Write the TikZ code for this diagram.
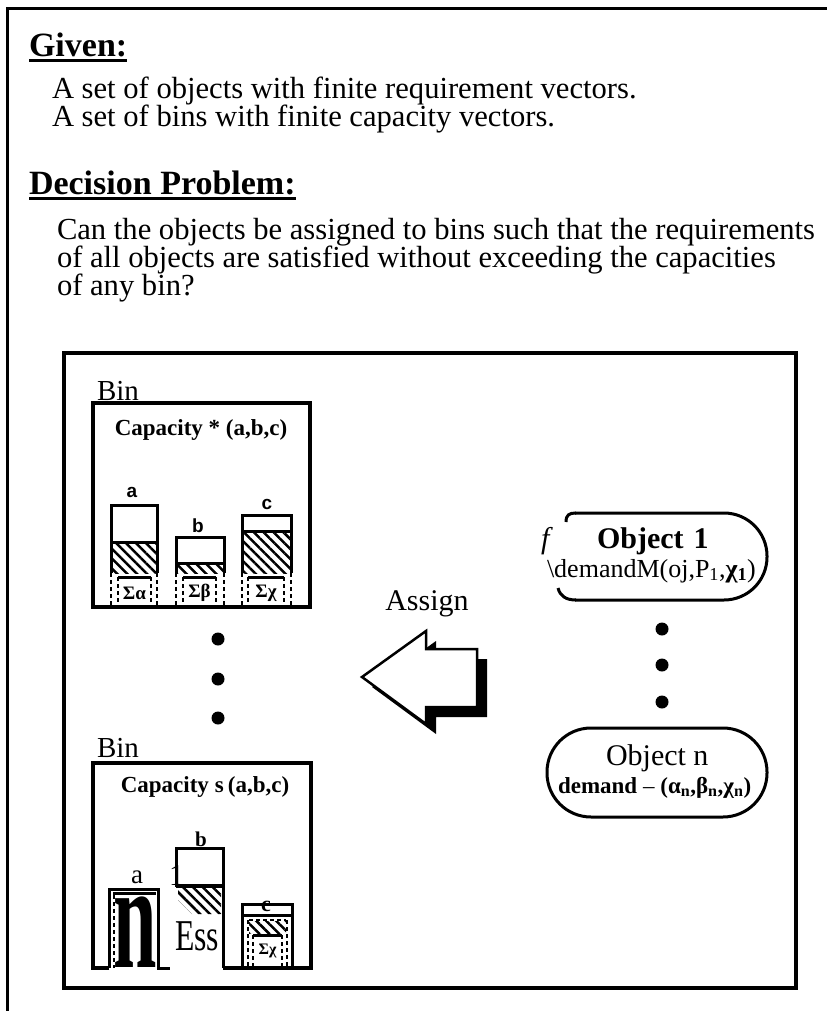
\documentclass[tikz,border=0pt]{standalone}
\usepackage{fontspec}
\setmainfont{Liberation Serif}
\newfontfamily\lsans{Liberation Sans}
\usetikzlibrary{patterns.meta}
\newcommand\fs[1]{\fontsize{#1}{#1}\selectfont}
% top-bin bar: x1 x2 top mid ix1 ix2 label
\newcommand\mybar[7]{%
  \draw[barline] (#1,573) -- (#1,#3) -- (#2,#3) -- (#2,573);
  \path[hatch] (#1,#4) rectangle (#2,573);
  \draw[barline] (#1,#4) -- (#2,#4);
  \draw[bardash] (#1,573) -- (#1,607) (#2,573) -- (#2,607);
  \draw[barline] (#5,577) -- (#6,577);
  \draw[bardash] (#5,577) -- (#5,607) (#6,577) -- (#6,607);
  \node[siglab] at ({(#5+#6)/2},593) {#7};
}
\begin{document}
\begin{tikzpicture}[x=1pt,y=-1pt,
  txt/.style={anchor=base west, inner sep=0pt, outer sep=0pt},
  body/.style={txt, font=\fs{30.6}},
  heading/.style={txt, font=\fs{34}\bfseries},
  uline/.style={line width=3pt},
  frame/.style={line width=3.5pt},
  binline/.style={line width=3.5pt},
  barline/.style={line width=3pt},
  bardash/.style={line width=2.5pt, dash pattern=on 4pt off 3pt},
  hatch/.style={pattern={Lines[angle=-45,distance=7pt,line width=2.5pt]}},
  objline/.style={line width=3pt},
  dot/.style={circle, fill, inner sep=0pt, minimum size=13pt},
  barlab/.style={anchor=base, inner sep=0pt, font=\lsans\fs{19}\bfseries},
  siglab/.style={anchor=center, inner sep=0pt, font=\fs{19}\bfseries},
]
\useasboundingbox (0,0) rectangle (827,1011);
\fill[white] (0,0) rectangle (827,1011);

% outer frame
\draw[line width=3pt] (7,1011) -- (7,9) -- (827,9);

% header texts
\node[heading] (given) at (29,57) {Given:};
\draw[uline] ([yshift=-4pt]given.base west) -- ([yshift=-4pt]given.base east);
\node[body] (g1) at (52,99) {A set of objects with finite requirement vectors.};
\node[body] (g2) at (52,127) {A set of bins with finite capacity vectors.};
\node[heading] (dp) at (29,194) {Decision Problem:};
\draw[uline] ([yshift=-4pt]dp.base west) -- ([yshift=-4pt]dp.base east);
\node[body] (d1) at (57,239) {Can the objects be assigned to bins such that the requirements};
\node[body] (d2) at (57,267) {of all objects are satisfied without exceeding the capacities};
\node[body] (d3) at (57,295) {of any bin?};

% inner frame
\draw[frame] (64,353) rectangle (796,988);

% ---------- top bin ----------
\node[txt, font=\fs{29}] (bin1) at (97,400) {Bin};
\draw[binline] (93,403) rectangle (310,607);
\node[anchor=base, inner sep=0pt, font=\fs{23}\bfseries] (cap1) at (201,435) {Capacity * (a,b,c)};
\mybar{111}{157}{505}{542}{118}{151}{Σα}
\mybar{176}{224}{537}{563}{183}{216}{Σβ}
\mybar{242}{291}{515}{531}{248}{284}{Σχ}
\node[barlab] (la1) at (132,497) {a};
\node[barlab] (lb1) at (198,532) {b};
\node[barlab] (lc1) at (267,509) {c};

% dots between bins
\node[dot] (bd1) at (218,639) {};
\node[dot] (bd2) at (218,679) {};
\node[dot] (bd3) at (218,718) {};

% ---------- bottom bin ----------
\node[txt, font=\fs{29}] (bin2) at (97,757) {Bin};
\node[anchor=base, inner sep=0pt, font=\fs{23}\bfseries] (cap2) at (205,792) {Capacity\hspace{6pt}s\hspace{4pt}(a,b,c)};
\draw[binline] (109,968) -- (93,968) -- (93,763) -- (311,763) -- (311,968) -- (223,968);
% bar a
\node[anchor=base, inner sep=0pt, font=\fs{27}] (la2) at (137,883) {a};
\draw[barline] (109,968) -- (109,889) -- (158,889) -- (158,968) -- (170,968);
\draw[bardash] (114,895) -- (114,968);
\draw[barline] (113,893) -- (156,893);
\node[txt, font=\fs{30}\bfseries] (bign) at (113,967) {\scalebox{2.6}[5.0]{n}};
% bar b
\node[anchor=base, inner sep=0pt, font=\fs{21}\bfseries] (lb2) at (201,846) {b};
\draw[barline] (176,887) -- (176,848) -- (223,848) -- (223,968);
\path[hatch] (178,888) -- (221,888) -- (221,914) -- (192,914) -- (178,900) -- cycle;
\draw[line width=4pt] (176,886) -- (223,886);
\node[txt, font=\fs{30}] (one) at (169,885) {1};
\node[txt, font=\fs{44}] (ess) at (175,950) {\scalebox{0.72}[1]{Ess}};
% bar c
\node[anchor=base, inner sep=0pt, font=\fs{22}\bfseries] (lc2) at (266,911) {c};
\draw[barline] (242,968) -- (242,904) -- (292,904) -- (292,968);
\draw[barline] (242,915) -- (292,915);
\draw[bardash] (249,920) -- (286,920);
\path[hatch] (249,921) rectangle (286,933);
\draw[bardash] (248,920) -- (248,968) (287,920) -- (287,968);
\draw[barline] (253,935) -- (282,935);
\draw[bardash] (253,935) -- (253,966) (282,935) -- (282,966);
\node[siglab, font=\fs{16}\bfseries] (sc2) at (267.5,951) {Σχ};

% ---------- assign arrow ----------
\node[anchor=base, inner sep=0pt, font=\fs{30}] (assign) at (427,610) {Assign};
\begin{scope}[shift={(10,10)}]
  \fill (362,677) -- (426,631) -- (426,649) -- (477,649) -- (477,707) -- (426,707) -- (426,724) -- cycle;
\end{scope}
\filldraw[fill=white, line width=2.5pt, line join=miter] (362,677) -- (426,631) -- (426,649) -- (477,649) -- (477,707) -- (426,707) -- (426,724) -- cycle;

% ---------- objects ----------
\draw[objline, rounded corners=43pt] (575,513) -- (767,513) -- (767,600) -- (575,600);
\draw[objline] (566,522) .. controls (566,515) and (569,513) .. (576,513);
\draw[objline] (576,600) .. controls (566,600) and (560,596) .. (558,588);
\node[txt, font=\fs{30}\itshape] (f) at (541,548) {f};
\node[txt, font=\fs{30}\bfseries] (obj1) at (597,548) {Object\hspace{10pt}1};
\node[txt, font=\fs{26}] (dem1) at (547,577) {\textbackslash demandM(oj,P\textsubscript{1},\textbf{χ\textsubscript{1}})};

\node[dot] (od1) at (662,629) {};
\node[dot] (od2) at (662,665) {};
\node[dot] (od3) at (662,702) {};

\draw[objline, rounded corners=44pt] (547,728) rectangle (767,817);
\node[txt, font=\fs{30}] (objn) at (606,765) {Object n};
\node[txt, font=\fs{23}] (demn) at (558,793) {\textbf{demand} – \textbf{(α\textsubscript{n},β\textsubscript{n},χ\textsubscript{n})}};
\end{tikzpicture}
\end{document}
